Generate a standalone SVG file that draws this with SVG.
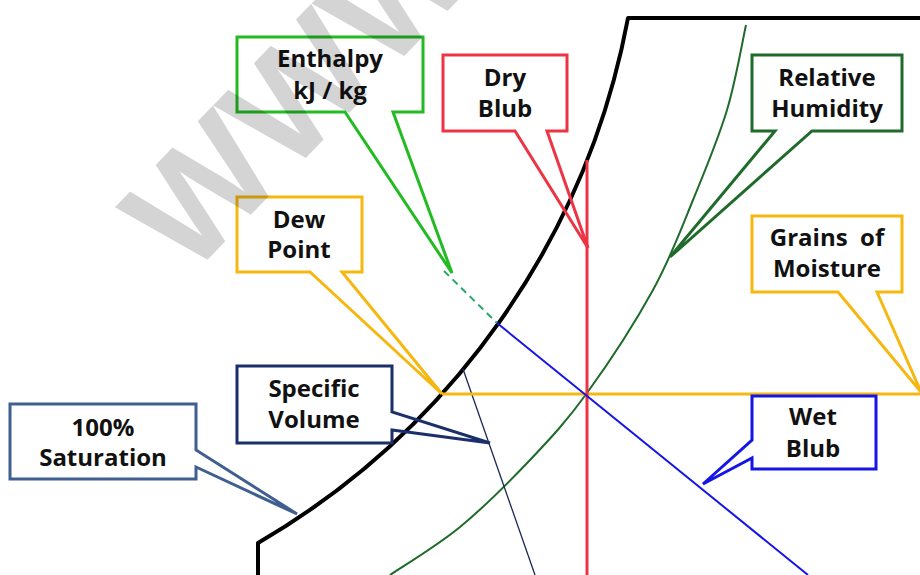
<svg xmlns="http://www.w3.org/2000/svg" width="920" height="575" viewBox="0 0 920 575">
<style>
  .box { fill: #ffffff; stroke: none; }
  .out { fill: none; stroke-width: 3; stroke-linejoin: miter; }
  .lbl { font-family: "Open Sans", "Liberation Sans", sans-serif; font-weight: 700; font-size: 24px; fill: #111111; text-anchor: middle; }
  .wm { font-family: "Liberation Sans", Arial, sans-serif; font-weight: 700; font-size: 150px; fill: #000000; fill-opacity: 0.17; }
</style>
<rect width="920" height="575" fill="#ffffff"/>

<g id="chart-lines">
  <!-- 100% saturation curve -->
  <path d="M258,575 V543 A772,772 0 0,0 628,18 H920" fill="none" stroke="#000000" stroke-width="4" stroke-linejoin="round"/>
  <!-- relative humidity curve -->
  <path d="M746,25 C742.8,39.2 735.8,80.8 727,110 C718.2,139.2 705.3,170 693,200 C680.7,230 670.7,257.8 653,290 C635.3,322.2 607.5,364.7 587,393 C566.5,421.3 551.2,437.7 530,460 C508.8,482.3 483.3,507.8 460,527 C436.7,546.2 401.7,567 390,575" fill="none" stroke="#1f6b2b" stroke-width="2"/>
  <!-- specific volume line -->
  <line x1="463" y1="369" x2="535" y2="575" stroke="#1b2a55" stroke-width="1.3"/>
  <!-- dew point / moisture line -->
  <line x1="442" y1="394" x2="920" y2="394" stroke="#f6b810" stroke-width="3"/>
  <!-- dry bulb line -->
  <line x1="587" y1="160" x2="587" y2="575" stroke="#ee3344" stroke-width="3"/>
  <!-- wet bulb line -->
  <line x1="497" y1="323" x2="808" y2="575" stroke="#1515e6" stroke-width="2"/>
  <!-- enthalpy dashed extension -->
  <line x1="444" y1="271" x2="497" y2="323" stroke="#2aa66a" stroke-width="2" stroke-dasharray="7,5"/>
</g>

<g id="enthalpy">
  <rect class="box" x="237" y="37" width="186" height="75"/>
  <path class="out" stroke="#22bb22" d="M237,37 H423 V112 H393 L452,273 L345,112 H237 Z"/>
  <text class="lbl" x="330" y="67">Enthalpy</text>
  <text class="lbl" x="330" y="99">kJ / kg</text>
</g>

<g id="dry-bulb">
  <rect class="box" x="443" y="55" width="124" height="76"/>
  <path class="out" stroke="#ee3344" d="M443,55 H567 V131 H547 L588,248 L515,131 H443 Z"/>
  <text class="lbl" x="505" y="86">Dry</text>
  <text class="lbl" x="505" y="117">Blub</text>
</g>

<g id="relative-humidity">
  <rect class="box" x="752" y="55" width="150" height="76"/>
  <path class="out" stroke="#1f6b2b" d="M752,55 H902 V131 H812 L670,257 L775,131 H752 Z"/>
  <text class="lbl" x="827" y="86">Relative</text>
  <text class="lbl" x="827" y="117">Humidity</text>
</g>

<g id="grains-of-moisture">
  <rect class="box" x="752" y="216" width="150" height="76"/>
  <path class="out" stroke="#f6b810" d="M752,216 H902 V292 H877 L921,392 L838,292 H752 Z"/>
  <text class="lbl" x="827" y="246" xml:space="preserve">Grains  of</text>
  <text class="lbl" x="827" y="277">Moisture</text>
</g>

<g id="dew-point">
  <rect class="box" x="237" y="197" width="125" height="75"/>
  <path class="out" stroke="#f6b810" d="M237,197 H362 V272 H342 L442,394 L310,272 H237 Z"/>
  <text class="lbl" x="299" y="228">Dew</text>
  <text class="lbl" x="299" y="258">Point</text>
</g>

<g id="specific-volume">
  <rect class="box" x="237" y="366" width="155" height="77"/>
  <path class="out" stroke="#1b2f6b" d="M237,366 H392 V412 L490,443 L392,430 V443 H237 Z"/>
  <text class="lbl" x="314" y="397">Specific</text>
  <text class="lbl" x="314" y="428">Volume</text>
</g>

<g id="saturation">
  <rect class="box" x="10" y="404" width="186" height="75"/>
  <path class="out" stroke="#3e5f8f" d="M10,404 H196 V450 L297,514 L196,467 V479 H10 Z"/>
  <text class="lbl" x="103" y="436">100%</text>
  <text class="lbl" x="103" y="466">Saturation</text>
</g>

<g id="wet-bulb">
  <rect class="box" x="752" y="396" width="124" height="73"/>
  <path class="out" stroke="#1515e6" d="M752,396 H876 V469 H752 V458 L703,484 L752,440 Z"/>
  <text class="lbl" x="813" y="425">Wet</text>
  <text class="lbl" x="813" y="457">Blub</text>
</g>

<text class="wm" x="189" y="279" transform="rotate(-46 189 279)">WWW</text>
</svg>
